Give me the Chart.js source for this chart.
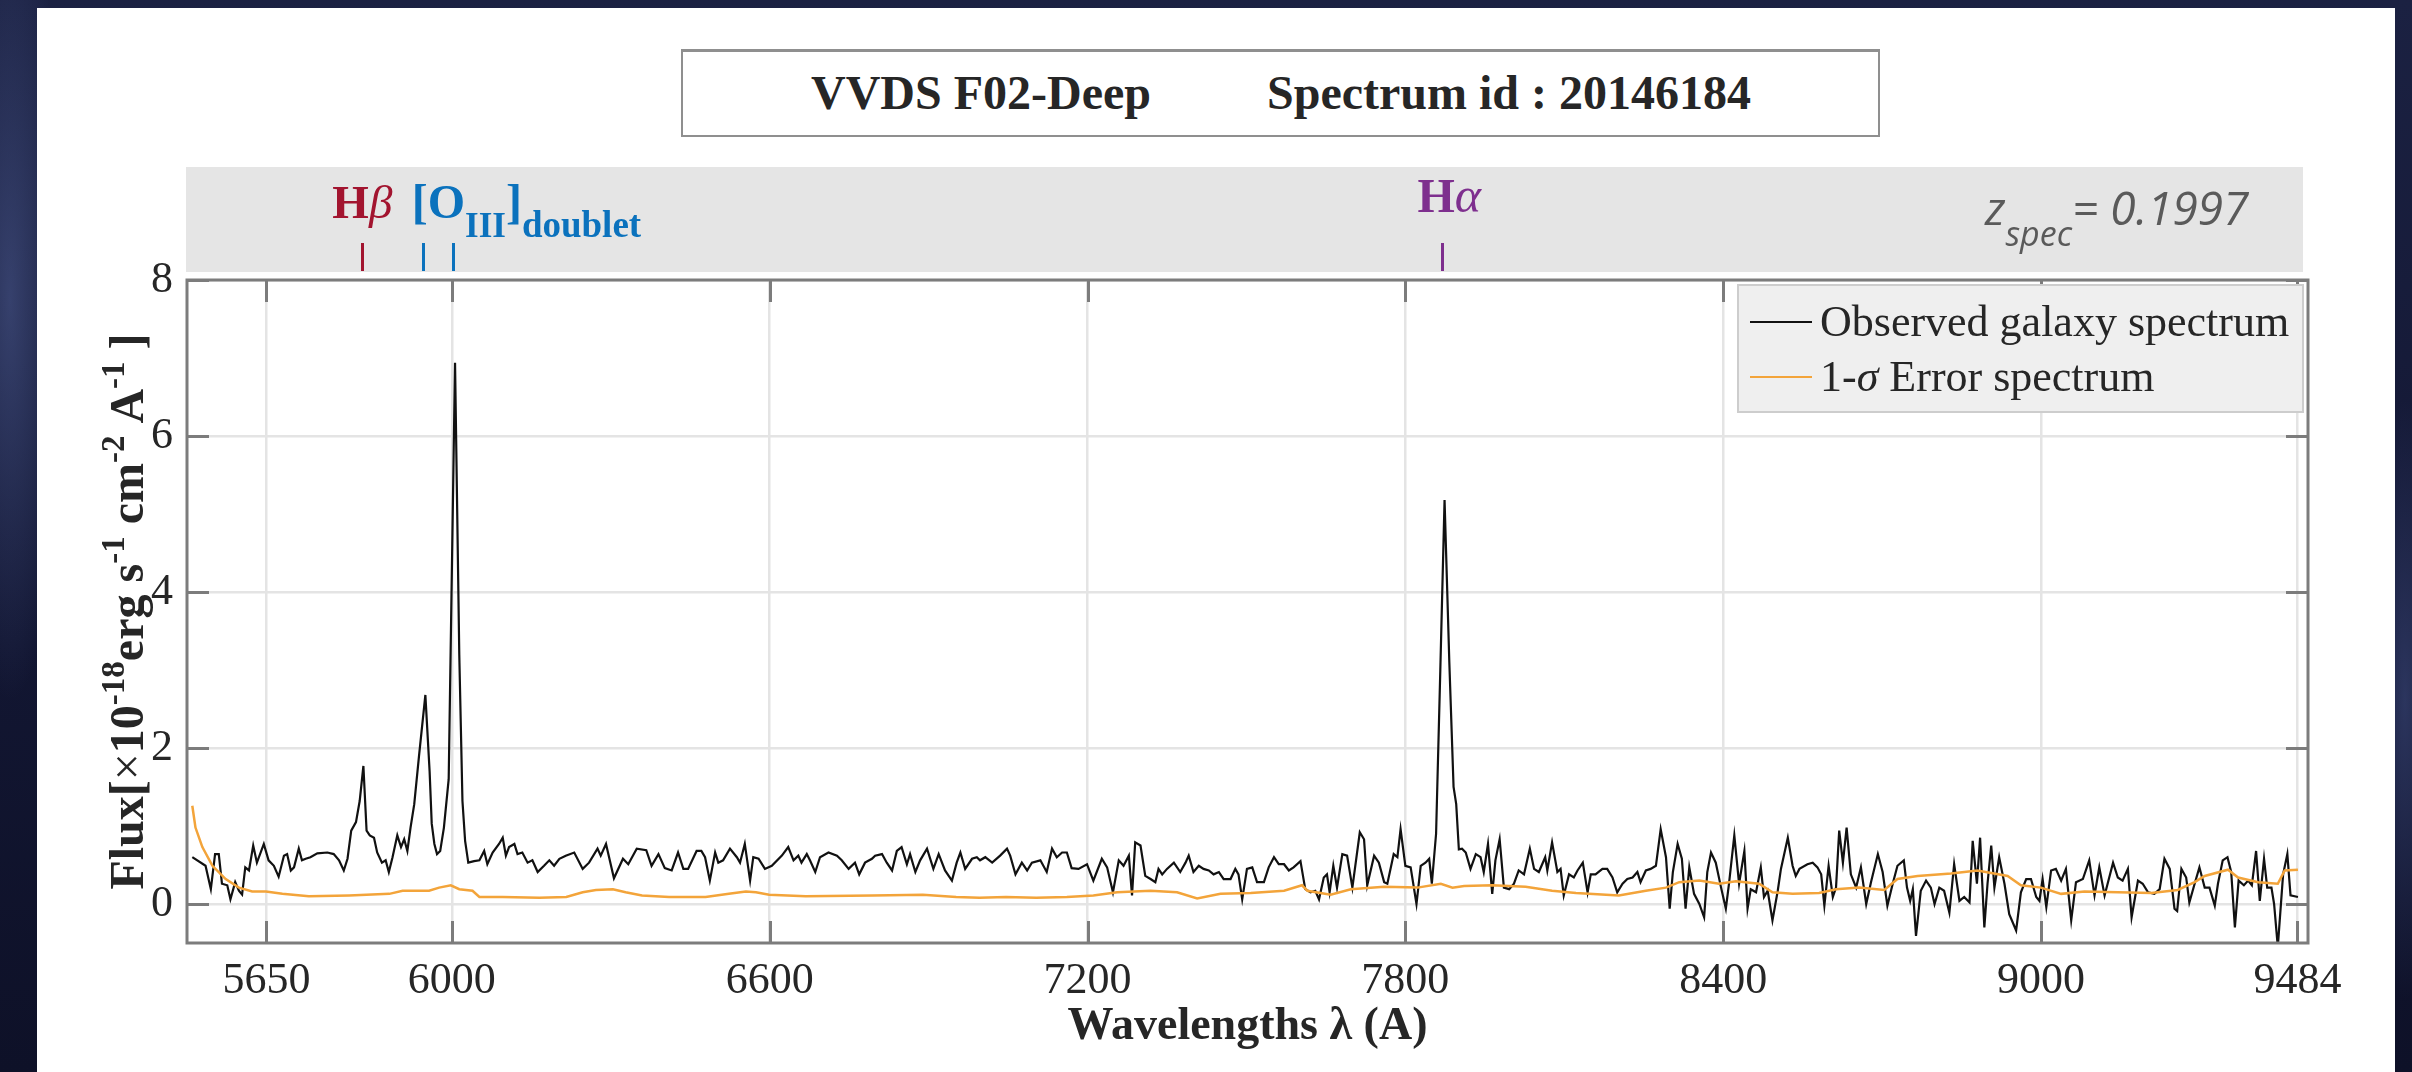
<!DOCTYPE html>
<html>
<head>
<meta charset="utf-8">
<title>VVDS F02-Deep spectrum</title>
<script src="https://cdn.jsdelivr.net/npm/chart.js@4.4.1/dist/chart.umd.min.js"></script>
<style>
    html, body {
        margin: 0;
        padding: 0;
        width: 2412px;
        height: 1072px;
        overflow: hidden;
    }
    body {
        position: relative;
        background:
            radial-gradient(ellipse 60px 400px at 10px 300px, rgba(80, 95, 150, 0.55), transparent),
            radial-gradient(ellipse 40px 300px at 2405px 700px, rgba(70, 85, 140, 0.5), transparent),
            linear-gradient(180deg, #1b2142 0%, #121632 60%, #0e1128 100%);
    }
    #panel {
        position: absolute;
        left: 37px;
        top: 8px;
        width: 2358px;
        height: 1064px;
        background: #fff;
    }
    #title-box {
        position: absolute;
        left: 681px;
        top: 49px;
        width: 1195px;
        height: 83px;
        border: 2px solid #8f8f8f;
        border-top-width: 3px;
        background: #fff;
        font-family: 'Liberation Serif', serif;
        font-weight: bold;
        font-size: 48px;
        line-height: 48px;
        color: #262626;
    }
    #title-box span {
        position: absolute;
        top: 17px;
        white-space: nowrap;
    }
    #chart-wrap {
        position: absolute;
        left: 0;
        top: 0;
        width: 2412px;
        height: 1072px;
    }
</style>
</head>
<body>
<div id="panel"></div>
<div id="title-box">
    <span style="left:128px">VVDS F02-Deep</span>
    <span style="left:584px">Spectrum id : 20146184</span>
</div>
<div id="chart-wrap"><canvas id="spectrum-chart"></canvas></div>

<script>
// observed galaxy spectrum (wavelength in A, flux in 1e-18 erg/s/cm2/A)
const obsWave = [
    5510, 5535, 5545, 5553, 5560, 5566, 5576, 5582, 5591, 5598, 5604, 5610, 5617, 5625, 5632, 5645,
    5654, 5664, 5673, 5683, 5689, 5696, 5702, 5711, 5717, 5724, 5733, 5746, 5765, 5777, 5787, 5796,
    5803, 5810, 5819, 5826, 5833, 5839, 5845, 5853, 5859, 5868, 5875, 5881, 5888, 5897, 5904, 5910,
    5916, 5922, 5929, 5938, 5950, 5958, 5962, 5967, 5972, 5978, 5985, 5994, 6006, 6014, 6020, 6025,
    6031, 6042, 6052, 6061, 6067, 6077, 6089, 6096, 6102, 6108, 6118, 6124, 6133, 6143, 6152, 6162,
    6174, 6184, 6193, 6203, 6215, 6231, 6247, 6259, 6275, 6281, 6291, 6306, 6323, 6333, 6349, 6367,
    6377, 6390, 6402, 6415, 6427, 6437, 6446, 6462, 6471, 6478, 6487, 6497, 6503, 6512, 6525, 6538,
    6544, 6553, 6563, 6569, 6579, 6591, 6604, 6623, 6635, 6645, 6654, 6660, 6670, 6676, 6686, 6695,
    6711, 6727, 6736, 6749, 6761, 6769, 6780, 6793, 6799, 6812, 6821, 6831, 6840, 6849, 6859, 6865,
    6875, 6884, 6897, 6909, 6919, 6931, 6944, 6953, 6960, 6969, 6982, 6991, 6997, 7007, 7020, 7035,
    7048, 7054, 7064, 7076, 7086, 7095, 7111, 7123, 7133, 7142, 7152, 7161, 7170, 7183, 7199, 7211,
    7227, 7237, 7248, 7259, 7268, 7278, 7284, 7290, 7300, 7309, 7319, 7328, 7334, 7341, 7350, 7363,
    7375, 7385, 7391, 7400, 7410, 7419, 7429, 7438, 7448, 7457, 7470, 7479, 7485, 7492, 7501, 7511,
    7520, 7533, 7542, 7552, 7561, 7571, 7580, 7589, 7602, 7611, 7621, 7630, 7637, 7646, 7652, 7657,
    7664, 7671, 7681, 7690, 7700, 7714, 7722, 7728, 7741, 7750, 7760, 7766, 7778, 7785, 7791, 7800,
    7810, 7821, 7829, 7838, 7845, 7850, 7858, 7866, 7874, 7883, 7891, 7896, 7901, 7907, 7914, 7923,
    7933, 7942, 7948, 7956, 7964, 7970, 7978, 7986, 7996, 8005, 8014, 8024, 8035, 8043, 8052, 8064,
    8068, 8077, 8087, 8093, 8099, 8109, 8118, 8125, 8135, 8144, 8150, 8159, 8172, 8181, 8191, 8200,
    8210, 8219, 8229, 8238, 8244, 8254, 8263, 8273, 8282, 8292, 8299, 8305, 8314, 8322, 8329, 8336,
    8345, 8355, 8364, 8370, 8377, 8386, 8396, 8405, 8411, 8421, 8430, 8440, 8446, 8452, 8462, 8471,
    8477, 8484, 8493, 8503, 8509, 8522, 8531, 8537, 8544, 8559, 8569, 8578, 8585, 8591, 8599, 8607,
    8613, 8619, 8626, 8633, 8641, 8651, 8660, 8670, 8679, 8692, 8701, 8710, 8720, 8729, 8741, 8747,
    8753, 8758, 8764, 8773, 8783, 8792, 8799, 8808, 8817, 8827, 8836, 8846, 8855, 8865, 8871, 8879,
    8885, 8893, 8899, 8906, 8912, 8921, 8931, 8940, 8953, 8962, 8972, 8981, 8991, 8997, 9003, 9010,
    9019, 9028, 9038, 9047, 9057, 9066, 9079, 9091, 9101, 9110, 9120, 9136, 9145, 9154, 9164, 9171,
    9183, 9192, 9202, 9214, 9224, 9233, 9243, 9252, 9257, 9265, 9274, 9280, 9290, 9299, 9309, 9318,
    9328, 9334, 9343, 9352, 9359, 9366, 9373, 9383, 9391, 9398, 9406, 9413, 9421, 9427, 9435, 9440,
    9447, 9457, 9465, 9471, 9485
];
const obsFlux = [
    0.60, 0.49, 0.19, 0.64, 0.64, 0.26, 0.24, 0.06, 0.28, 0.17, 0.12, 0.47, 0.43, 0.75, 0.53, 0.77,
    0.56, 0.49, 0.35, 0.62, 0.64, 0.43, 0.47, 0.71, 0.56, 0.58, 0.60, 0.65, 0.66, 0.64, 0.56, 0.43,
    0.58, 0.94, 1.05, 1.32, 1.77, 0.94, 0.88, 0.85, 0.66, 0.53, 0.56, 0.41, 0.60, 0.88, 0.73, 0.83,
    0.68, 0.98, 1.28, 1.90, 2.68, 1.70, 1.03, 0.77, 0.64, 0.68, 0.98, 1.60, 6.94, 3.20, 1.32, 0.81,
    0.53, 0.55, 0.56, 0.68, 0.51, 0.66, 0.77, 0.85, 0.62, 0.73, 0.77, 0.64, 0.66, 0.53, 0.56, 0.41,
    0.49, 0.56, 0.49, 0.58, 0.62, 0.66, 0.45, 0.53, 0.71, 0.62, 0.77, 0.33, 0.58, 0.51, 0.71, 0.69,
    0.49, 0.64, 0.46, 0.43, 0.66, 0.45, 0.45, 0.68, 0.68, 0.60, 0.30, 0.66, 0.53, 0.56, 0.71, 0.60,
    0.53, 0.77, 0.30, 0.60, 0.58, 0.45, 0.49, 0.62, 0.73, 0.56, 0.62, 0.53, 0.64, 0.56, 0.41, 0.60,
    0.66, 0.62, 0.56, 0.45, 0.53, 0.38, 0.53, 0.58, 0.62, 0.64, 0.53, 0.43, 0.68, 0.73, 0.51, 0.64,
    0.41, 0.56, 0.71, 0.45, 0.64, 0.43, 0.30, 0.53, 0.66, 0.45, 0.58, 0.60, 0.56, 0.60, 0.53, 0.62,
    0.71, 0.62, 0.38, 0.53, 0.43, 0.53, 0.56, 0.41, 0.71, 0.60, 0.66, 0.66, 0.46, 0.45, 0.51, 0.30,
    0.58, 0.47, 0.15, 0.56, 0.49, 0.62, 0.11, 0.79, 0.75, 0.36, 0.32, 0.28, 0.45, 0.38, 0.45, 0.53,
    0.41, 0.53, 0.62, 0.41, 0.49, 0.45, 0.43, 0.38, 0.41, 0.32, 0.32, 0.45, 0.38, 0.06, 0.45, 0.47,
    0.28, 0.28, 0.47, 0.60, 0.51, 0.51, 0.43, 0.47, 0.55, 0.19, 0.15, 0.17, 0.06, 0.34, 0.38, 0.15,
    0.49, 0.21, 0.64, 0.62, 0.21, 0.92, 0.83, 0.24, 0.62, 0.53, 0.28, 0.26, 0.64, 0.60, 0.96, 0.49,
    0.47, 0.00, 0.49, 0.53, 0.58, 0.26, 0.90, 3.00, 5.18, 3.10, 1.50, 1.28, 0.70, 0.71, 0.66, 0.45,
    0.64, 0.60, 0.41, 0.77, 0.13, 0.56, 0.83, 0.21, 0.19, 0.26, 0.43, 0.38, 0.71, 0.45, 0.41, 0.60,
    0.43, 0.79, 0.41, 0.45, 0.11, 0.38, 0.34, 0.43, 0.53, 0.15, 0.38, 0.38, 0.45, 0.45, 0.34, 0.15,
    0.26, 0.32, 0.34, 0.41, 0.28, 0.43, 0.45, 0.49, 0.96, 0.60, -0.06, 0.41, 0.77, 0.58, -0.06, 0.47,
    0.13, 0.00, -0.17, 0.41, 0.66, 0.53, 0.21, -0.06, 0.26, 0.88, 0.26, 0.68, -0.06, 0.19, 0.15, 0.47,
    0.09, 0.17, -0.21, 0.17, 0.45, 0.85, 0.49, 0.36, 0.45, 0.51, 0.53, 0.47, 0.38, -0.02, 0.49, 0.09,
    0.21, 0.94, 0.53, 0.98, 0.38, 0.21, 0.47, 0.00, 0.28, 0.64, 0.41, -0.02, 0.26, 0.49, 0.56, 0.21,
    0.04, 0.19, -0.41, 0.17, 0.30, 0.21, 0.00, 0.21, 0.17, -0.11, 0.51, 0.04, 0.09, 0.02, 0.81, 0.26,
    0.85, -0.30, 0.26, 0.75, 0.21, 0.60, 0.26, -0.13, -0.34, 0.15, 0.32, 0.32, 0.09, 0.04, 0.32, -0.04,
    0.43, 0.45, 0.30, 0.45, -0.21, 0.28, 0.32, 0.56, 0.11, 0.47, 0.11, 0.53, 0.34, 0.30, 0.45, -0.17,
    0.30, 0.26, 0.15, 0.13, 0.19, 0.58, 0.45, -0.06, -0.09, 0.45, 0.34, 0.02, 0.26, 0.47, 0.21, 0.21,
    -0.02, 0.26, 0.56, 0.60, 0.41, -0.30, 0.30, 0.24, 0.30, 0.24, 0.68, 0.04, 0.58, 0.21, 0.21, 0.00,
    -0.55, 0.38, 0.64, 0.11, 0.09
];

// 1-sigma error spectrum
const errWave = [
    5510, 5516, 5529, 5548, 5573, 5598, 5623, 5649, 5680, 5730, 5806, 5882, 5907, 5957, 5976, 5998,
    6014, 6039, 6052, 6096, 6165, 6216, 6247, 6272, 6304, 6328, 6359, 6410, 6479, 6523, 6555, 6574,
    6599, 6668, 6794, 6889, 6952, 6996, 7046, 7103, 7161, 7211, 7256, 7319, 7369, 7407, 7451, 7508,
    7571, 7605, 7615, 7659, 7697, 7760, 7823, 7867, 7889, 7911, 7964, 8027, 8077, 8122, 8203, 8254,
    8292, 8317, 8355, 8392, 8424, 8468, 8493, 8531, 8581, 8613, 8657, 8704, 8729, 8767, 8830, 8880,
    8937, 8962, 9000, 9038, 9082, 9145, 9208, 9258, 9290, 9309, 9353, 9372, 9410, 9447, 9460, 9485
];
const errFlux = [
    1.26, 0.98, 0.73, 0.49, 0.32, 0.21, 0.16, 0.16, 0.13, 0.10, 0.11, 0.13, 0.17, 0.17, 0.21, 0.24,
    0.19, 0.17, 0.09, 0.09, 0.08, 0.09, 0.15, 0.18, 0.19, 0.15, 0.11, 0.09, 0.09, 0.13, 0.16, 0.15,
    0.12, 0.10, 0.11, 0.12, 0.09, 0.08, 0.09, 0.08, 0.09, 0.11, 0.15, 0.17, 0.15, 0.07, 0.13, 0.14,
    0.17, 0.24, 0.17, 0.12, 0.19, 0.22, 0.21, 0.26, 0.21, 0.23, 0.24, 0.22, 0.17, 0.14, 0.11, 0.17,
    0.21, 0.28, 0.30, 0.26, 0.29, 0.26, 0.15, 0.13, 0.14, 0.19, 0.21, 0.18, 0.32, 0.36, 0.39, 0.43,
    0.36, 0.24, 0.21, 0.13, 0.16, 0.15, 0.14, 0.18, 0.28, 0.36, 0.44, 0.34, 0.28, 0.26, 0.43, 0.44
];

const xTicks = [5650, 6000, 6600, 7200, 7800, 8400, 9000, 9484];
const yTicks = [0, 2, 4, 6, 8];

// emission lines marked in the top band: Hb, [OIII] 4959, [OIII] 5007, Ha
const lineWaves = [5831, 5945, 6002, 7870];
const lineColors = ['#a2142f', '#0b72bd', '#0b72bd', '#7e2f8e'];
const zSpec = '0.1997';

const SERIF = "'Liberation Serif', 'Times New Roman', serif";
const AXIS_GREY = '#7c7c7c';
const TEXT = '#262626';

function drawRuns(ctx, runs, x, y) {
    runs.forEach(r => {
        ctx.font = r.font;
        ctx.fillStyle = r.color || ctx.fillStyle;
        ctx.fillText(r.text, x, y + (r.dy || 0));
        x += ctx.measureText(r.text).width;
    });
    return x;
}

function runsWidth(ctx, runs) {
    let w = 0;
    runs.forEach(r => {
        ctx.font = r.font;
        w += ctx.measureText(r.text).width;
    });
    return w;
}

const decorPlugin = {
    id: 'decor',
    afterDatasetsDraw(chart) {
        const ctx = chart.ctx;
        const area = chart.chartArea;
        const xs = chart.scales.x;
        const ys = chart.scales.y;
        const tickLen = 22;

        ctx.save();
        ctx.textBaseline = 'alphabetic';
        ctx.textAlign = 'left';

        // axes box and inward ticks on all four sides
        ctx.strokeStyle = AXIS_GREY;
        ctx.lineWidth = 3;
        ctx.strokeRect(area.left, area.top, area.right - area.left, area.bottom - area.top);
        ctx.beginPath();
        xs.ticks.forEach(t => {
            const px = Math.round(xs.getPixelForValue(t.value)) + 0.5;
            ctx.moveTo(px, area.bottom);
            ctx.lineTo(px, area.bottom - tickLen);
            ctx.moveTo(px, area.top);
            ctx.lineTo(px, area.top + tickLen);
        });
        ys.ticks.forEach(t => {
            const py = Math.round(ys.getPixelForValue(t.value)) + 0.5;
            ctx.moveTo(area.left, py);
            ctx.lineTo(area.left + tickLen, py);
            ctx.moveTo(area.right, py);
            ctx.lineTo(area.right - tickLen, py);
        });
        ctx.stroke();

        // legend box in the upper right corner
        const lgLeft = 1738, lgTop = 285, lgRight = area.right - 5, lgBottom = 412;
        ctx.fillStyle = '#efefef';
        ctx.fillRect(lgLeft, lgTop, lgRight - lgLeft, lgBottom - lgTop);
        ctx.strokeStyle = '#cdcdcd';
        ctx.lineWidth = 2;
        ctx.strokeRect(lgLeft, lgTop, lgRight - lgLeft, lgBottom - lgTop);
        const rowY = [322, 377];
        chart.data.datasets.forEach((ds, i) => {
            const y = rowY[i];
            ctx.strokeStyle = ds.borderColor;
            ctx.lineWidth = 2;
            ctx.beginPath();
            ctx.moveTo(1750, y);
            ctx.lineTo(1812, y);
            ctx.stroke();
            const parts = ds.label.split('σ');
            const runs = [{ text: parts[0], font: `44px ${SERIF}`, color: TEXT }];
            if (parts.length > 1) {
                runs.push({ text: 'σ', font: `italic 44px ${SERIF}`, color: TEXT });
                runs.push({ text: parts[1], font: `44px ${SERIF}`, color: TEXT });
            }
            drawRuns(ctx, runs, 1820, y + 14);
        });

        // grey band with the emission line markers
        ctx.fillStyle = '#e5e5e5';
        ctx.fillRect(area.left - 1, 167, area.right - area.left - 4, 105);

        ctx.lineWidth = 3;
        lineWaves.forEach((w, i) => {
            const px = Math.round(xs.getPixelForValue(w)) + 0.5;
            ctx.strokeStyle = lineColors[i];
            ctx.beginPath();
            ctx.moveTo(px, 243);
            ctx.lineTo(px, 271);
            ctx.stroke();
        });

        const hbX = xs.getPixelForValue(lineWaves[0]);
        const hbRuns = [
            { text: 'H', font: `bold 47px ${SERIF}`, color: lineColors[0] },
            { text: 'β', font: `italic 47px ${SERIF}`, color: lineColors[0] }
        ];
        drawRuns(ctx, hbRuns, hbX - runsWidth(ctx, hbRuns) / 2, 218);

        const o3X = xs.getPixelForValue(lineWaves[1]) - 11;
        drawRuns(ctx, [
            { text: '[O', font: `bold 48px ${SERIF}`, color: lineColors[1] },
            { text: 'III', font: `bold 35px ${SERIF}`, color: lineColors[1], dy: 19 },
            { text: ']', font: `bold 48px ${SERIF}`, color: lineColors[1] },
            { text: 'doublet', font: `bold 37px ${SERIF}`, color: lineColors[1], dy: 19 }
        ], o3X, 218);

        const haX = xs.getPixelForValue(lineWaves[3]) - 25;
        drawRuns(ctx, [
            { text: 'H', font: `bold 48px ${SERIF}`, color: lineColors[3] },
            { text: 'α', font: `italic 50px ${SERIF}`, color: lineColors[3] }
        ], haX, 212);

        const zX = area.right - 323;
        drawRuns(ctx, [
            { text: 'z', font: "italic 46px 'Open Sans', sans-serif", color: '#5a5a5a' },
            { text: 'spec', font: "italic 34px 'Open Sans', sans-serif", color: '#5a5a5a', dy: 21 },
            { text: '= ' + zSpec, font: "italic 46px 'Open Sans', sans-serif", color: '#5a5a5a' }
        ], zX, 225);

        // rotated y axis title with superscripts
        const bold = `bold 48px ${SERIF}`;
        const sup = `bold 33px ${SERIF}`;
        const yRuns = [
            { text: 'Flux[', font: bold, color: TEXT },
            { text: '×', font: `48px ${SERIF}`, color: TEXT },
            { text: '10', font: bold, color: TEXT },
            { text: '-18', font: sup, color: TEXT, dy: -19 },
            { text: 'erg s', font: bold, color: TEXT },
            { text: '-1', font: sup, color: TEXT, dy: -19 },
            { text: ' cm', font: bold, color: TEXT },
            { text: '-2', font: sup, color: TEXT, dy: -19 },
            { text: ' A', font: bold, color: TEXT },
            { text: '-1', font: sup, color: TEXT, dy: -19 },
            { text: ' ]', font: bold, color: TEXT }
        ];
        ctx.translate(127, (area.top + area.bottom) / 2);
        ctx.rotate(-Math.PI / 2);
        drawRuns(ctx, yRuns, -runsWidth(ctx, yRuns) / 2, 16);

        ctx.restore();
    }
};

const tickFont = { family: SERIF, size: 44 };
const gridStyle = { color: '#e4e4e4', lineWidth: 2.5, drawTicks: false };

const chart = new Chart(document.getElementById('spectrum-chart'), {
    type: 'line',
    data: {
        datasets: [
            {
                label: 'Observed galaxy spectrum',
                data: obsWave.map((w, i) => ({ x: w, y: obsFlux[i] })),
                borderColor: '#111111',
                borderWidth: 2.2,
                pointRadius: 0,
                tension: 0,
                order: 1
            },
            {
                label: '1-σ Error spectrum',
                data: errWave.map((w, i) => ({ x: w, y: errFlux[i] })),
                borderColor: '#f3a43a',
                borderWidth: 2.5,
                pointRadius: 0,
                tension: 0,
                order: 0
            }
        ]
    },
    options: {
        responsive: true,
        maintainAspectRatio: false,
        animation: false,
        events: [],
        layout: {
            padding: { left: 37, top: 280, right: 104, bottom: 0 }
        },
        plugins: {
            legend: { display: false },
            tooltip: { enabled: false },
            title: { display: false }
        },
        scales: {
            x: {
                type: 'linear',
                min: 5500,
                max: 9504,
                afterBuildTicks: s => { s.ticks = xTicks.map(v => ({ value: v })); },
                afterFit: s => { s.height = 129; },
                grid: gridStyle,
                border: { display: false },
                ticks: {
                    font: tickFont,
                    color: TEXT,
                    padding: 12,
                    maxRotation: 0,
                    autoSkip: false,
                    callback: v => String(v)
                },
                title: {
                    display: true,
                    text: 'Wavelengths λ (A)',
                    font: { family: SERIF, size: 46, weight: 'bold' },
                    color: TEXT,
                    padding: { top: 0, bottom: 17 }
                }
            },
            y: {
                type: 'linear',
                min: -0.5,
                max: 8,
                afterBuildTicks: s => { s.ticks = yTicks.map(v => ({ value: v })); },
                afterFit: s => { s.width = 150; },
                grid: gridStyle,
                border: { display: false },
                ticks: {
                    font: tickFont,
                    color: TEXT,
                    padding: 14,
                    callback: v => String(v)
                }
            }
        }
    },
    plugins: [decorPlugin]
});
</script>
</body>
</html>
